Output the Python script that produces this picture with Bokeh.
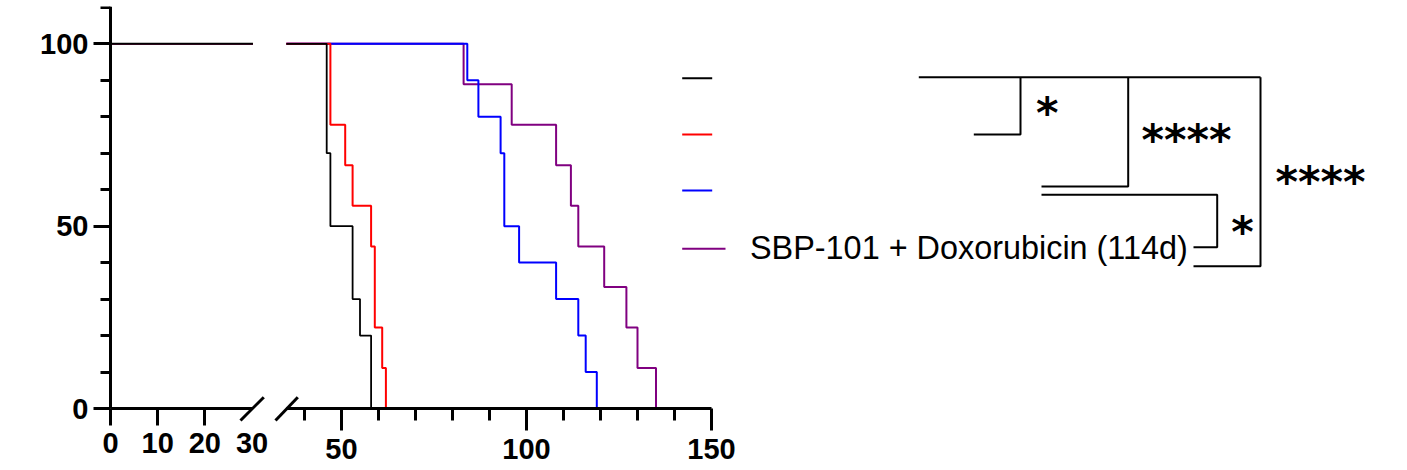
from bokeh.plotting import figure
from bokeh.models import Range1d, LinearAxis, FixedTicker, Grid
from bokeh.core.properties import value
from bokeh.embed import file_html
from bokeh.resources import INLINE

# ---------------- data ----------------
black_days = [46, 47, 53, 55, 58]
black_surv = [70, 50, 30, 20, 0]
red_days = [47, 51, 53, 58, 59, 61, 62]
red_surv = [77.8, 66.7, 55.6, 44.4, 22.2, 11.1, 0]
blue_days = [84, 87, 93, 94, 98, 108, 114, 116, 119]
blue_surv = [90, 80, 70, 50, 40, 30, 20, 10, 0]
purple_days = [83, 96, 108, 112, 114, 121, 127, 130, 135]
purple_surv = [88.9, 77.8, 66.7, 55.6, 44.4, 33.3, 22.2, 11.1, 0]

legend_labels = ["", "", "", "SBP-101 + Doxorubicin (114d)"]
series_colors = ["#000000", "#FF0000", "#0000FF", "#800080"]
sig_labels = ["*", "****", "****", "*"]

left_ticks = [0, 10, 20]
left_extra_label = [30]
right_major = [50, 100, 150]
right_minor = [40, 60, 70, 80, 90, 110, 120, 130, 140]
y_major = [0, 50, 100]
y_minor = [10, 20, 30, 40, 60, 70, 80, 90, 110]

# ---------------- layout constants (page pixels) ----------------
LEFT_END = 30.2      # end of first x segment (axis break)
RIGHT_START = 35.1   # start of second x segment
K_LEFT = 4.717       # px per day, left segment
K_RIGHT = 3.70       # px per day, right segment
K_Y = 3.647          # px per percent
X0_PX = 110          # page x of day 0
X50_PX = 341         # page x of day 50 (right segment)
Y0_PX = 408          # page y of survival 0
FR_L, FR_R = 0, 1385
FR_T, FR_B = 6, 466
FRAME_W = FR_R - FR_L
FRAME_H = FR_B - FR_T
Y_TOP = (Y0_PX - FR_T) / K_Y

l_start = -(X0_PX - FR_L) / K_LEFT
p = figure(frame_width=FRAME_W, frame_height=FRAME_H,
           min_border_left=FR_L, min_border_right=5, min_border_top=FR_T, min_border_bottom=2,
           x_range=Range1d(l_start, l_start + FRAME_W / K_LEFT),
           y_range=Range1d(-(FR_B - Y0_PX) / K_Y, Y_TOP),
           x_axis_location=None, y_axis_location=None,
           output_backend="svg", toolbar_location=None)
p.outline_line_color = None
p.background_fill_color = "white"
p.border_fill_color = "white"
p.center = [c for c in p.center if not isinstance(c, Grid)]

r_start = 50 - (X50_PX - FR_L) / K_RIGHT
p.extra_x_ranges = {"right": Range1d(r_start, r_start + FRAME_W / K_RIGHT),
                    "px": Range1d(FR_L, FR_R)}
p.extra_y_ranges = {"py": Range1d(FR_B, FR_T)}

LABEL_FONT = "Liberation Sans"


def style_axis(ax, tick_out, minor_out, standoff):
    ax.axis_line_width = 3
    ax.axis_line_color = "black"
    ax.major_tick_line_width = 3
    ax.minor_tick_line_width = 3
    ax.major_tick_in = 0
    ax.minor_tick_in = 0
    ax.major_tick_out = tick_out
    ax.minor_tick_out = minor_out
    ax.major_label_text_font = LABEL_FONT
    ax.major_label_text_font_style = "bold"
    ax.major_label_text_font_size = "29px"
    ax.major_label_text_color = "black"
    ax.major_label_standoff = standoff


yax = LinearAxis(ticker=FixedTicker(ticks=y_major, minor_ticks=y_minor),
                 fixed_location=0, bounds=(0, Y_TOP))
style_axis(yax, 17, 10, 5)
p.add_layout(yax, "left")

xl = LinearAxis(ticker=FixedTicker(ticks=left_ticks), fixed_location=0, bounds=(0, LEFT_END))
style_axis(xl, 17, 0, 7)
p.add_layout(xl, "below")

xl30 = LinearAxis(ticker=FixedTicker(ticks=left_extra_label), fixed_location=0, bounds=(0, LEFT_END))
style_axis(xl30, 0, 0, 24)
xl30.axis_line_color = None
p.add_layout(xl30, "below")

xr = LinearAxis(x_range_name="right", ticker=FixedTicker(ticks=right_major, minor_ticks=right_minor),
                fixed_location=0, bounds=(RIGHT_START, 150))
style_axis(xr, 22, 12, 8)
p.add_layout(xr, "below")

# ---------------- survival curves (purple, blue, red, black on top) ----------------
series = [(purple_days, purple_surv, series_colors[3], 2),
          (blue_days, blue_surv, series_colors[2], 2),
          (red_days, red_surv, series_colors[1], 2),
          (black_days, black_surv, series_colors[0], 1.8)]
for days, surv, col, lw in series:
    p.line([0, LEFT_END], [100, 100], line_color=col,
           line_width=2 if col == "#000000" else 1.4)
    p.step([RIGHT_START] + days, [100] + surv, mode="after", x_range_name="right",
           line_color=col, line_width=lw)

# ---------------- axis break marks ----------------
p.segment(x0=[240, 275], y0=[420, 420], x1=[263.3, 297.3], y1=[396.7, 396.7],
          x_range_name="px", y_range_name="py", line_color="black", line_width=3)

# ---------------- legend ----------------
leg_y = [77.7, 134, 190, 248.3]
leg_x1 = [711.7, 711.7, 711.7, 725]
p.segment(x0=[681.7] * 4, y0=leg_y, x1=leg_x1, y1=leg_y, x_range_name="px", y_range_name="py",
          line_color=series_colors, line_width=2)
for lab, yy in zip(legend_labels, leg_y):
    if lab:
        p.text(x=[749.5], y=[yy - 1], text=[lab], x_range_name="px", y_range_name="py",
               text_font=value(LABEL_FONT), text_font_size="32.4px", text_color="black",
               text_align="left", text_baseline="alphabetic")

# ---------------- significance brackets ----------------
br_xs = [[918.3, 1260],
         [1020, 1020, 973.3],
         [1127.7, 1127.7, 1041],
         [1260, 1260, 1193],
         [1041, 1216.7, 1216.7, 1193]]
br_ys = [[76.7, 76.7],
         [76.7, 134, 134],
         [76.7, 186, 186],
         [76.7, 265.7, 265.7],
         [194.3, 194.3, 246.7, 246.7]]
p.multi_line(xs=br_xs, ys=br_ys, x_range_name="px", y_range_name="py",
             line_color="black", line_width=2)

sig_cx = [1046.7, 1186, 1320, 1242]
sig_cy = [106, 133.8, 175.8, 225]
p.text(x=sig_cx, y=[c + 6 for c in sig_cy], text=sig_labels, x_range_name="px", y_range_name="py",
       text_font=value("DejaVu Sans"), text_font_style="bold", text_font_size="43px",
       text_color="black", text_align="center", text_baseline="alphabetic")

open("out.html", "w").write(file_html(p, INLINE))
